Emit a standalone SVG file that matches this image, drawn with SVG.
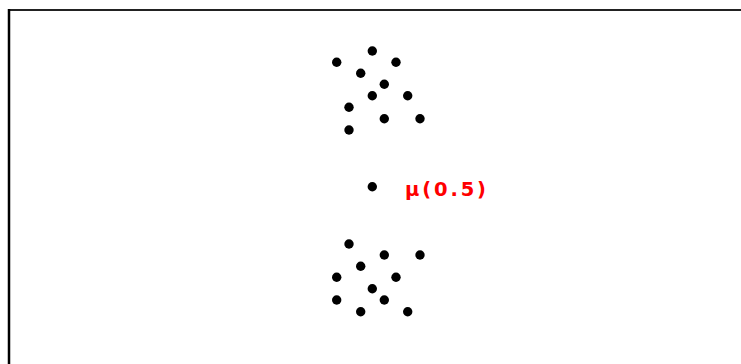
<svg xmlns="http://www.w3.org/2000/svg" width="741" height="364" viewBox="0 0 741 364">
<style>
.dot{fill:#000}
.lbl{font-family:"DejaVu Sans","Liberation Sans",sans-serif;font-weight:bold;font-size:19.5px;fill:#f00}
</style>
<rect width="741" height="364" fill="#fff"/>
<g id="frame">
<line x1="9" y1="10" x2="741" y2="10" stroke="#222" stroke-width="2"/>
<line x1="9" y1="9" x2="9" y2="364" stroke="#000" stroke-width="2.5"/>
</g>
<g id="cluster-top">
<circle class="dot" cx="372.3" cy="51" r="4.7"/>
<circle class="dot" cx="336.7" cy="62.3" r="4.7"/>
<circle class="dot" cx="396" cy="62.3" r="4.7"/>
<circle class="dot" cx="360.7" cy="73.3" r="4.7"/>
<circle class="dot" cx="384.3" cy="84.3" r="4.7"/>
<circle class="dot" cx="372.3" cy="95.7" r="4.7"/>
<circle class="dot" cx="407.7" cy="95.7" r="4.7"/>
<circle class="dot" cx="349" cy="107.3" r="4.7"/>
<circle class="dot" cx="384.3" cy="118.7" r="4.7"/>
<circle class="dot" cx="420" cy="118.7" r="4.7"/>
<circle class="dot" cx="349" cy="130" r="4.7"/>
</g>
<g id="mean">
<circle class="dot" cx="372.3" cy="186.7" r="4.7"/>
<text class="lbl" x="405" y="195.5" textLength="81" lengthAdjust="spacing">μ(0.5)</text>
</g>
<g id="cluster-bottom">
<circle class="dot" cx="349" cy="244" r="4.7"/>
<circle class="dot" cx="384.3" cy="255" r="4.7"/>
<circle class="dot" cx="420" cy="255" r="4.7"/>
<circle class="dot" cx="360.7" cy="266.3" r="4.7"/>
<circle class="dot" cx="336.7" cy="277.3" r="4.7"/>
<circle class="dot" cx="396" cy="277.3" r="4.7"/>
<circle class="dot" cx="372.3" cy="288.7" r="4.7"/>
<circle class="dot" cx="336.7" cy="300" r="4.7"/>
<circle class="dot" cx="384.3" cy="300" r="4.7"/>
<circle class="dot" cx="360.7" cy="311.7" r="4.7"/>
<circle class="dot" cx="407.7" cy="311.7" r="4.7"/>
</g>
<g id="connectors"/>
</svg>
